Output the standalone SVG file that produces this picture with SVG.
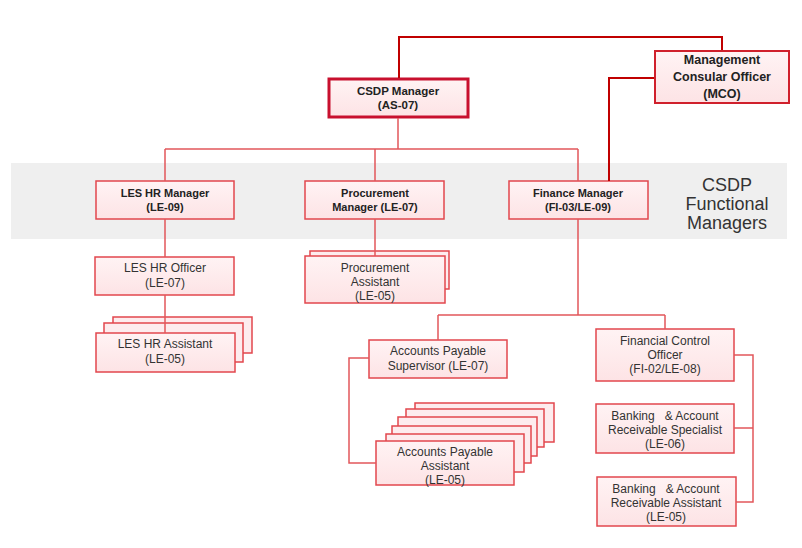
<svg xmlns="http://www.w3.org/2000/svg" width="802" height="548" viewBox="0 0 802 548">
<defs>
<linearGradient id="pink" x1="0" y1="0" x2="0" y2="1">
<stop offset="0" stop-color="#fff3f4"/>
<stop offset="1" stop-color="#fde3e5"/>
</linearGradient>
<style>
.box{fill:url(#pink);stroke:#e2474d;stroke-width:1.5}
.back{fill:#fdecee;stroke:#e2474d;stroke-width:1.5}
.top{fill:url(#pink);stroke:#c8102e;stroke-width:3}
.mco{fill:url(#pink);stroke:#d0202c;stroke-width:2}
.t{font-family:"Liberation Sans",Arial,sans-serif;font-size:12px;fill:#333;text-anchor:middle;white-space:pre}
.b{font-family:"Liberation Sans",Arial,sans-serif;font-size:11px;font-weight:bold;fill:#222;text-anchor:middle}
.bt{font-family:"Liberation Sans",Arial,sans-serif;font-size:11.5px;font-weight:bold;fill:#222;text-anchor:middle}
.bm{font-family:"Liberation Sans",Arial,sans-serif;font-size:12.5px;font-weight:bold;fill:#222;text-anchor:middle}
.lbl{font-family:"Liberation Sans",Arial,sans-serif;font-size:18px;fill:#333;text-anchor:middle}
.ln{fill:none;stroke:#e2575b;stroke-width:1.5}
.dk{fill:none;stroke:#c00000;stroke-width:2}
</style>
</defs>
<rect x="11" y="163" width="776" height="76" fill="#efefef"/>
<g id="band-label">
<text class="lbl" x="727" y="191">CSDP</text>
<text class="lbl" x="727" y="210">Functional</text>
<text class="lbl" x="727" y="229">Managers</text>
</g>
<g id="csdp-manager">
<rect class="top" x="329" y="79" width="139" height="38"/>
<text class="bt" x="398" y="95">CSDP Manager</text>
<text class="bt" x="398" y="109">(AS-07)</text>
</g>
<g id="mco">
<rect class="mco" x="655" y="51" width="134" height="52"/>
<text class="bm" x="722" y="64">Management</text>
<text class="bm" x="722" y="81">Consular Officer</text>
<text class="bm" x="722" y="98">(MCO)</text>
</g>
<g id="les-hr-manager">
<rect class="box" x="96" y="181" width="138" height="38"/>
<text class="b" x="165" y="197">LES HR Manager</text>
<text class="b" x="165" y="211">(LE-09)</text>
</g>
<g id="procurement-manager">
<rect class="box" x="305" y="181" width="139" height="38"/>
<text class="b" x="375" y="197">Procurement</text>
<text class="b" x="375" y="211">Manager (LE-07)</text>
</g>
<g id="finance-manager">
<rect class="box" x="509" y="181" width="139" height="38"/>
<text class="b" x="578" y="197">Finance Manager</text>
<text class="b" x="578" y="211">(FI-03/LE-09)</text>
</g>
<g id="les-hr-officer">
<rect class="box" x="95" y="257" width="139" height="38"/>
<text class="t" x="165" y="272">LES HR Officer</text>
<text class="t" x="165" y="287">(LE-07)</text>
</g>
<g id="les-hr-assistant">
<rect class="back" x="113" y="317" width="139" height="36"/>
<rect class="back" x="104" y="323" width="139" height="39"/>
<rect class="box" x="96" y="333" width="139" height="39"/>
<text class="t" x="165" y="348">LES HR Assistant</text>
<text class="t" x="165" y="363">(LE-05)</text>
</g>
<g id="procurement-assistant">
<rect class="back" x="310" y="251" width="139" height="38"/>
<rect class="box" x="305" y="256" width="140" height="47"/>
<text class="t" x="375" y="272">Procurement</text>
<text class="t" x="375" y="286">Assistant</text>
<text class="t" x="375" y="300">(LE-05)</text>
</g>
<g id="ap-supervisor">
<rect class="box" x="369" y="340" width="138" height="38"/>
<text class="t" x="438" y="355">Accounts Payable</text>
<text class="t" x="438" y="370">Supervisor (LE-07)</text>
</g>
<g id="ap-assistant">
<rect class="back" x="415" y="403" width="139" height="39"/>
<rect class="back" x="406" y="409" width="138" height="38"/>
<rect class="back" x="398" y="417" width="139" height="39"/>
<rect class="back" x="392" y="426" width="139" height="37"/>
<rect class="back" x="386" y="434" width="138" height="38"/>
<rect class="box" x="376" y="441" width="138" height="44"/>
<text class="t" x="445" y="456">Accounts Payable</text>
<text class="t" x="445" y="470">Assistant</text>
<text class="t" x="445" y="484">(LE-05)</text>
</g>
<g id="financial-control-officer">
<rect class="box" x="596" y="329" width="138" height="52"/>
<text class="t" x="665" y="345">Financial Control</text>
<text class="t" x="665" y="359">Officer</text>
<text class="t" x="665" y="373">(FI-02/LE-08)</text>
</g>
<g id="banking-specialist">
<rect class="box" x="596" y="404" width="138" height="49"/>
<text class="t" x="665" y="420">Banking   &amp; Account</text>
<text class="t" x="665" y="434">Receivable Specialist</text>
<text class="t" x="665" y="448">(LE-06)</text>
</g>
<g id="banking-assistant">
<rect class="box" x="597" y="477" width="139" height="49"/>
<text class="t" x="666" y="493">Banking   &amp; Account</text>
<text class="t" x="666" y="507">Receivable Assistant</text>
<text class="t" x="666" y="521">(LE-05)</text>
</g>
<g id="connectors">
<path class="dk" d="M399,78 V37 H722 V50"/>
<path class="dk" d="M654,78 H609 V181"/>
<path class="ln" d="M398,118 V149 M165,149 H578 M165,149 V181 M375,149 V181 M578,149 V181"/>
<path class="ln" d="M165,219 V257 M165,295 V333 M375,219 V256"/>
<path class="ln" d="M578,219 V315 M438,315 H665 M438,315 V340 M665,315 V329"/>
<path class="ln" d="M369,358 H349 V463 H376"/>
<path class="ln" d="M734,355 H753 V502 H736 M734,428 H753"/>
</g>
</svg>
